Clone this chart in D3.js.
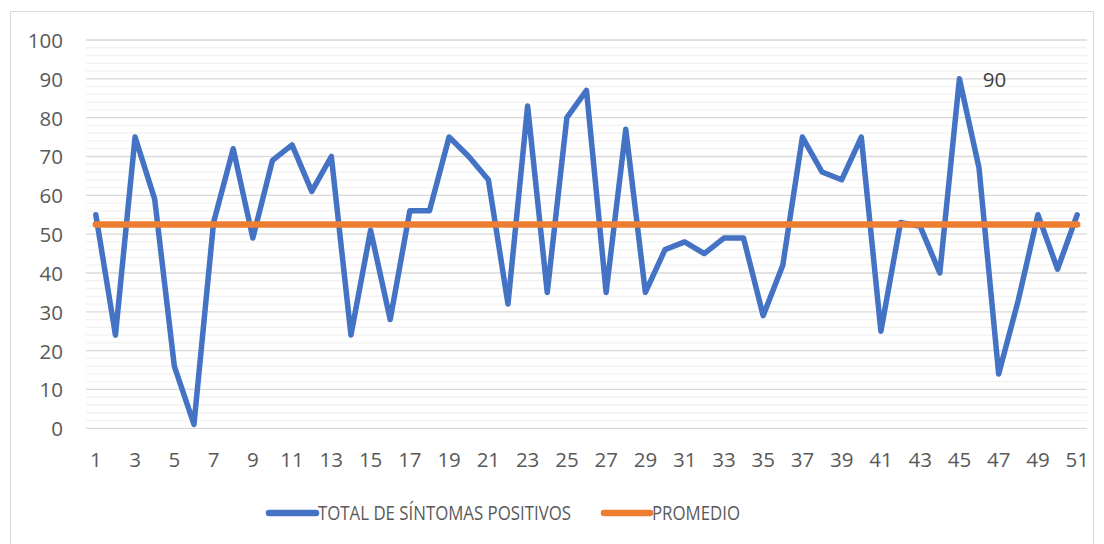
<!DOCTYPE html>
<html><head><meta charset="utf-8">
<script src="https://cdn.jsdelivr.net/npm/d3@7"></script>
<style>body{margin:0;background:#fff}svg{display:block}text{font-family:"Open Sans",sans-serif}</style>
</head><body>
<svg id="c" width="1104" height="544"></svg>
<script>
const categories = d3.range(1, 52);
const totalSintomas = [55,24,75,59,16,1,53,72,49,69,73,61,70,24,51,28,56,56,75,70,64,32,83,35,80,87,35,77,35,46,48,45,49,49,29,42,75,66,64,75,25,53,52,40,90,67,14,33,55,41,55];
const promedio = 52.5;
const yTicks = [0,10,20,30,40,50,60,70,80,90,100];
const xTickLabels = categories.filter(d => d % 2 === 1);
const labelIndex = 44; // data label shown on point 45
const seriesNames = ["TOTAL DE SÍNTOMAS POSITIVOS", "PROMEDIO"];
const colors = ["#4472C4", "#ED7D31"];

const svg = d3.select("#c");
svg.append("rect").attr("x",10.5).attr("y",11.5).attr("width",1083).attr("height",540)
  .attr("fill","#fff").attr("stroke","#d9d9d9").attr("stroke-width",1);

const pLeft = 86, pRight = 1087, pTop = 40, pBottom = 428.3;
const x = d3.scaleBand().domain(categories).range([pLeft, pRight]);
const xc = d => x(d) + x.bandwidth()/2;
const y = d3.scaleLinear().domain([0,100]).range([pBottom, pTop]);

// minor gridlines
const minor = d3.range(0, 101, 2).filter(v => v % 10 !== 0);
svg.append("g").selectAll("line").data(minor).join("line")
  .attr("x1", pLeft).attr("x2", pRight).attr("y1", d => y(d)).attr("y2", d => y(d))
  .attr("stroke", "#f2f2f2").attr("stroke-width", 1.3);
svg.append("g").selectAll("line").data(yTicks).join("line")
  .attr("x1", pLeft).attr("x2", pRight).attr("y1", d => y(d)).attr("y2", d => y(d))
  .attr("stroke", "#d9d9d9").attr("stroke-width", 1.3);

// y axis labels
const yAxis = d3.axisLeft(y).tickValues(yTicks).tickSize(0).tickPadding(0);
const gy = svg.append("g").attr("transform", `translate(63,0)`).call(yAxis);
gy.select(".domain").remove();
gy.selectAll("text").attr("fill","#595959").style("font-size","20.5px").style("font-family","Open Sans").attr("dy","0.36em");

// x axis labels
const xAxis = d3.axisBottom(x).tickValues(xTickLabels).tickSize(0).tickPadding(0);
const gx = svg.append("g").attr("transform", `translate(0,${pBottom + 31})`).call(xAxis);
gx.select(".domain").remove();
gx.selectAll("text").attr("fill","#595959").style("font-size","20.5px").style("font-family","Open Sans").attr("dy","0.36em");

// series
const line = d3.line().x((d,i) => xc(categories[i])).y(d => y(d));
svg.append("path").datum(totalSintomas).attr("d", line)
  .attr("fill","none").attr("stroke", colors[0]).attr("stroke-width", 5.5)
  .attr("stroke-linejoin","round").attr("stroke-linecap","round");
svg.append("path").datum([categories[0], categories[categories.length-1]])
  .attr("d", d3.line().x(d => xc(d)).y(() => y(promedio)))
  .attr("fill","none").attr("stroke", colors[1]).attr("stroke-width", 6.5)
  .attr("stroke-linecap","round");

// data label
svg.append("text").attr("x", xc(categories[labelIndex]) + 35).attr("y", y(totalSintomas[labelIndex]) + 1)
  .attr("dy","0.36em").attr("text-anchor","middle").attr("fill","#404040")
  .style("font-size","20.5px").text(totalSintomas[labelIndex]);

// legend
const legend = [
  {name: seriesNames[0], color: colors[0], x: 269, w: 47, tw: 253},
  {name: seriesNames[1], color: colors[1], x: 604, w: 46, tw: 88}
];
const lg = svg.append("g");
legend.forEach(l => {
  lg.append("line").attr("x1", l.x).attr("x2", l.x + l.w).attr("y1", 513).attr("y2", 513)
    .attr("stroke", l.color).attr("stroke-width", 6.5).attr("stroke-linecap","round");
  lg.append("text").attr("x", l.x + l.w + 2).attr("y", 513).attr("dy","0.36em")
    .attr("fill","#595959").style("font-size","19.5px")
    .attr("textLength", l.tw).attr("lengthAdjust","spacingAndGlyphs").text(l.name);
});
</script>
</body></html>
